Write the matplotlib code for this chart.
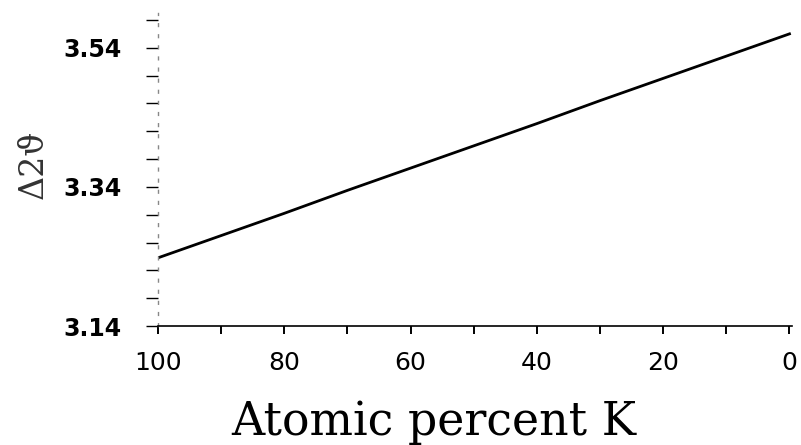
import matplotlib
matplotlib.use("Agg")
import matplotlib.pyplot as plt

# Data
atomic_percent_k = [100, 90, 85, 80, 70, 60, 50, 40, 30, 20, 10, 0]
delta_2theta = [3.238, 3.270, 3.286, 3.302, 3.335, 3.367, 3.399, 3.431, 3.464, 3.496, 3.528, 3.560]

x_ticks = [100, 90, 80, 70, 60, 50, 40, 30, 20, 10, 0]
x_tick_labels = ["100", "", "80", "", "60", "", "40", "", "20", "", "0"]
y_ticks = [3.14, 3.18, 3.22, 3.26, 3.30, 3.34, 3.38, 3.42, 3.46, 3.50, 3.54, 3.58]
y_tick_labels = ["3.14", "", "", "", "", "3.34", "", "", "", "", "3.54", ""]

fig = plt.figure(figsize=(8.01, 4.45), dpi=100)
ax = fig.add_axes([158 / 801, 1 - 326 / 445, (792 - 158) / 801, 313 / 445])

ax.plot(atomic_percent_k, delta_2theta, color="black", linewidth=2.0)

ax.set_xlim(100, -0.4)
ax.set_ylim(3.14, 3.59)

ax.set_xticks(x_ticks)
ax.set_xticklabels(x_tick_labels, fontsize=18, family="DejaVu Sans")
ax.set_yticks(y_ticks)
ax.set_yticklabels(y_tick_labels, fontsize=17, family="DejaVu Sans", fontweight="bold")

ax.tick_params(axis="x", direction="out", length=6, width=1.4, pad=12, colors="black")
ax.tick_params(axis="y", direction="out", length=9, width=1.0, pad=17, colors="black")

for s in ["top", "right"]:
    ax.spines[s].set_visible(False)
ax.spines["left"].set_color("#888888")
ax.spines["left"].set_linestyle((0, (2, 6)))
ax.spines["left"].set_linewidth(1.0)
ax.spines["bottom"].set_color("black")
ax.spines["bottom"].set_linewidth(1.2)

ax.set_xlabel("Atomic percent K", fontsize=33, family="DejaVu Serif", va="baseline")
ax.xaxis.set_label_coords(0.435, -0.348)
ax.set_ylabel("Δ2ϑ", fontsize=24, family=["DejaVu Serif", "DejaVu Sans", "Noto Sans"],
              color="#333333")
ax.yaxis.set_label_coords(-0.17, 0.515)

fig.savefig("out.png", dpi=100)
